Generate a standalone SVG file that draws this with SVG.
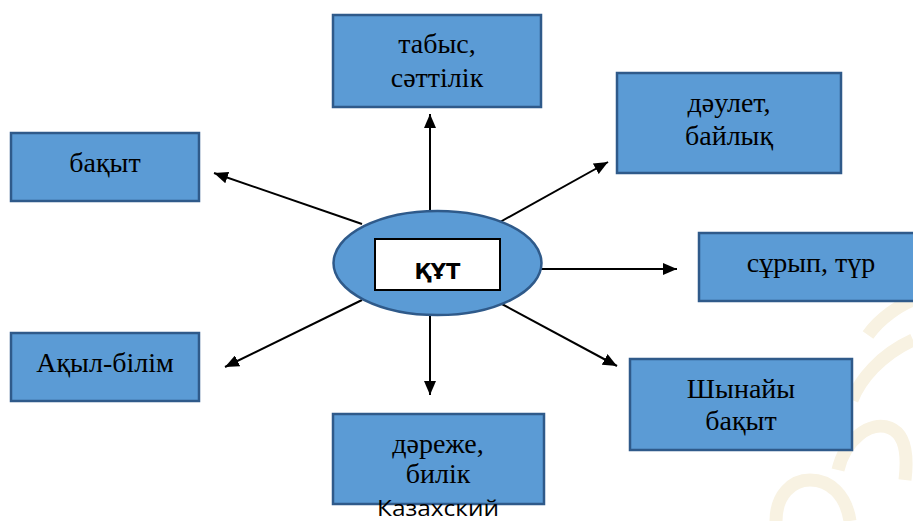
<svg xmlns="http://www.w3.org/2000/svg" width="913" height="521" viewBox="0 0 913 521">
<defs>
<marker id="ah" markerWidth="14" markerHeight="12" refX="14" refY="6" orient="auto" markerUnits="userSpaceOnUse">
<path d="M0,0 L14,6 L0,12 Z" fill="#000"/>
</marker>
<style>
.box{fill:#5B9BD5;stroke:#2F5A8A;stroke-width:2.5}
.t{font-family:Liberation Serif,Times New Roman,serif;font-size:28px;fill:#000;text-anchor:middle}
.c{stroke:#000;stroke-width:2;fill:none;marker-end:url(#ah)}
.wm{fill:none;stroke:#F8F2E2;stroke-width:13;stroke-linecap:butt}
</style>
</defs>
<rect width="913" height="521" fill="#fff"/>
<g id="watermark">
<path class="wm" d="M776,521 C776,495 792,480 810,480 C830,480 846,495 850,521"/>
<path class="wm" d="M838,470 C845,440 870,420 890,428 C905,434 908,455 905,480"/>
<path class="wm" d="M852,400 C860,380 880,355 913,340"/>
<path class="wm" d="M868,335 C880,318 900,305 913,300"/>
</g>
<g id="connectors">
<line class="c" x1="430" y1="211" x2="430" y2="114"/>
<line class="c" x1="362" y1="224" x2="214" y2="173"/>
<line class="c" x1="500" y1="222" x2="608" y2="162"/>
<line class="c" x1="541" y1="269" x2="677" y2="269"/>
<line class="c" x1="500" y1="303" x2="617" y2="366"/>
<line class="c" x1="430" y1="312" x2="430" y2="395"/>
<line class="c" x1="362" y1="300" x2="225" y2="367"/>
</g>
<g id="center">
<ellipse cx="437.5" cy="263" rx="104" ry="52" fill="#5B9BD5" stroke="#2F5A8A" stroke-width="2.5"/>
<rect x="375" y="239" width="125" height="51" fill="#fff" stroke="#000" stroke-width="2"/>
<text x="437.5" y="279" style="font-family:'DejaVu Sans',sans-serif;font-weight:bold;font-size:21px" text-anchor="middle">ҚҰТ</text>
</g>
<g id="n-tabys">
<rect class="box" x="333" y="15" width="208" height="92"/>
<text class="t" x="437" y="53">табыс,</text>
<text class="t" x="437" y="87">сәттілік</text>
</g>
<g id="n-bakyt">
<rect class="box" x="11" y="133" width="188" height="68"/>
<text class="t" x="105" y="172">бақыт</text>
</g>
<g id="n-daulet">
<rect class="box" x="617" y="73" width="224" height="100"/>
<text class="t" x="729" y="112">дәулет,</text>
<text class="t" x="729" y="145">байлық</text>
</g>
<g id="n-surip">
<rect class="box" x="699" y="233" width="220" height="68"/>
<text class="t" x="811" y="272">сұрып, түр</text>
</g>
<g id="n-akyl">
<rect class="box" x="11" y="333" width="188" height="68"/>
<text class="t" x="105" y="372">Ақыл-білім</text>
</g>
<g id="n-shynayy">
<rect class="box" x="630" y="359" width="222" height="91"/>
<text class="t" x="741" y="398">Шынайы</text>
<text class="t" x="741" y="430">бақыт</text>
</g>
<g id="n-darezhe">
<rect class="box" x="333" y="414" width="211" height="90"/>
<text class="t" x="438" y="453">дәреже,</text>
<text class="t" x="438" y="483">билік</text>
</g>
<text x="438" y="516" style="font-family:'Open Sans','Liberation Sans',sans-serif;font-size:21px" text-anchor="middle" textLength="122" lengthAdjust="spacingAndGlyphs">Казахский</text>
</svg>
